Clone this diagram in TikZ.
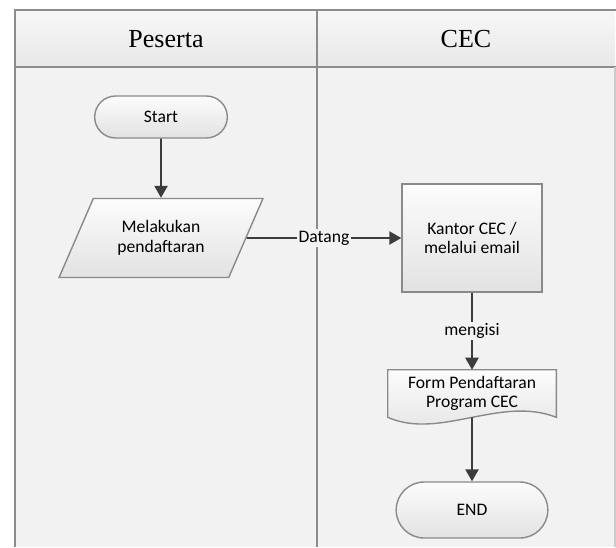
\documentclass[tikz,border=0pt]{standalone}
\usepackage{fontspec}
\setmainfont{Liberation Serif}
\newfontfamily\flowfont{Carlito}
\usetikzlibrary{shapes,arrows.meta,backgrounds}
\definecolor{lanebg}{HTML}{F2F2F2}
\definecolor{laneline}{HTML}{8C8C8C}
\definecolor{headtop}{HTML}{F7F7F7}
\definecolor{headbot}{HTML}{E8E8E8}
\definecolor{nodeline}{HTML}{8A8A8A}
\definecolor{nodetop}{HTML}{FCFCFC}
\definecolor{nodebot}{HTML}{E2E2E2}
\definecolor{arrowcol}{HTML}{3C3C3C}
\tikzstyle{terminal} = [draw=nodeline, line width=1pt, top color=nodetop, bottom color=nodebot, rounded rectangle, minimum height=1.05cm, minimum width=3.55cm, align=center]
\tikzstyle{io} = [draw=nodeline, line width=1pt, top color=nodetop, bottom color=nodebot, trapezium, trapezium left angle=61, trapezium right angle=119, trapezium stretches=true, minimum width=5.1cm, minimum height=1.975cm, align=center]
\tikzstyle{block} = [draw=nodeline, line width=1pt, top color=nodetop, bottom color=nodebot, rectangle, minimum height=2.7cm, minimum width=3.5cm, align=center]
\tikzstyle{docbox} = [rectangle, minimum height=1.175cm, minimum width=4.2cm, align=center]
\tikzstyle{flow} = [->, draw=arrowcol, line width=1.4pt]
\tikzstyle{lbl} = [fill=lanebg, inner sep=1pt]
\tikzstyle{lane} = [draw=laneline, line width=1.2pt]
\tikzstyle{lanehead} = [font={\rmfamily\fontsize{18.5pt}{22pt}\selectfont}]

\begin{document}
\begin{tikzpicture}[x=0.025cm, y=-0.025cm, >={Triangle[length=3mm, width=3.3mm]}]
    \tikzset{font={\flowfont\fontsize{12.5pt}{14pt}\selectfont}}
    \useasboundingbox (0,0) rectangle (616,547);

    % Swimlanes
    \begin{scope}[on background layer]
    \fill[lanebg] (15,10) rectangle (615,547);
    \shade[top color=headtop, bottom color=headbot] (15,10) rectangle (615,67);
    \draw[lane] (616,10) -- (15,10) -- (15,547);
    \draw[lane] (15,67) -- (616,67);
    \draw[lane] (317,10) -- (317,547);
    \draw[draw=laneline!45, line width=0.8pt] (615,67) -- (615,547);
    \end{scope}
    \node [lanehead] (peserta) at (166,39) {Peserta};
    \node [lanehead] (cec) at (466,39) {CEC};

    \node [terminal] (start) at (161,117) {Start};
    \node [io] (daftar) at (161,238) {Melakukan\\ pendaftaran};
    \node [block] (kantor) at (472,238) {Kantor CEC /\\ melalui email};
    \node [docbox] (form) at (472,393.5) {Form Pendaftaran\\ Program CEC};
    \node [terminal, minimum width=4.025cm, minimum height=1.4cm] (end) at (472,510) {END};

    % Document outline
    \begin{scope}[on background layer]
    \draw[draw=nodeline, line width=1pt, top color=nodetop, bottom color=nodebot] (form.north west) -- (form.north east) -- (form.south east) .. controls +(-56,-22) and +(52,23) .. (form.south west) -- cycle;
    \end{scope}

    \draw [flow] (start) -- (daftar);
    \draw [flow] (daftar) -- node[lbl] {Datang} (kantor);
    \draw [flow] (kantor) -- node[lbl] {mengisi} (form);
    \draw [flow] (form) -- (end);
\end{tikzpicture}
\end{document}
